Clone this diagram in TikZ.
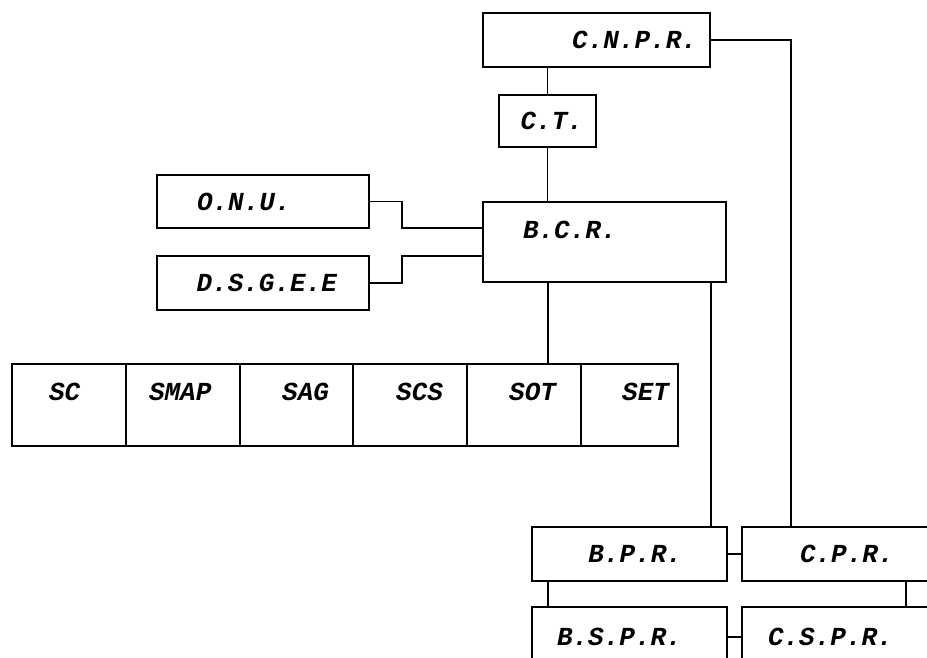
\documentclass[tikz,border=0pt]{standalone}
\usepackage{fontspec}
\setmonofont{Liberation Mono}
\usepackage{tikz}
\usetikzlibrary{positioning,calc}

\begin{document}
\begin{tikzpicture}[x=1pt,y=-1pt,
    box/.style={draw,line width=1.4pt,anchor=north west,inner ysep=0pt,outer sep=0pt,
      font=\ttfamily\bfseries\itshape\fontsize{26}{28}\selectfont},
    cell/.style={box,minimum height=82pt,text depth=26pt},
    a/.style={line width=1.4pt}]
    \useasboundingbox (0,0) rectangle (927,657);
    \clip (0,0) rectangle (927,657);
    % top of the chart
    \node[box,minimum height=54pt,align=right,inner xsep=13pt,text width=201pt] (cnpr) at (483,13) {C.N.P.R.};
    \node[box,minimum height=52pt,align=right,inner xsep=13pt,text width=71pt] (ct) at (499,95) {C.T.};
    \node[box,minimum height=80pt,align=left,inner xsep=40pt,text width=163pt,text depth=24pt] (bcr) at (483,202) {B.C.R.};
    \node[box,minimum height=53pt,align=left,inner xsep=40pt,text width=132pt] (onu) at (157,175) {O.N.U.};
    \node[box,minimum height=54pt,align=right,inner xsep=32pt,text width=148pt] (dsgee) at (157,256) {D.S.G.E.E};
    % services row
    \node[cell,align=left,inner xsep=37pt,text width=40pt] (sc) at (12,364) {SC};
    \node[cell,align=left,inner xsep=23pt,text width=68pt] (smap) at (sc.north east) {SMAP};
    \node[cell,align=right,inner xsep=24pt,text width=65pt] (sag) at (smap.north east) {SAG};
    \node[cell,align=right,inner xsep=24pt,text width=66pt] (scs) at (sag.north east) {SCS};
    \node[cell,align=right,inner xsep=25pt,text width=64pt] (sot) at (scs.north east) {SOT};
    \node[cell,align=right,inner xsep=9pt,text width=79pt] (set) at (sot.north east) {SET};
    % regional level
    \node[box,minimum height=54pt,align=right,inner xsep=45pt,text width=105pt] (bpr) at (532,527) {B.P.R.};
    \node[box,minimum height=54pt,align=left,inner xsep=58pt,text width=102pt] (cpr) at (742,527) {C.P.R.};
    \node[box,minimum height=60pt,align=left,inner xsep=25pt,text width=145pt] (bspr) at (532,607) {B.S.P.R.};
    \node[box,minimum height=60pt,align=left,inner xsep=26pt,text width=166pt] (cspr) at (742,607) {C.S.P.R.};
    % links
    \draw[a] (ct.north) -- (ct.north |- cnpr.south);
    \draw[a] (ct.south) -- (ct.south |- bcr.north);
    \draw[a] (cnpr.east) -| ($(cpr.north west)+(49,0)$);
    \draw[a] (onu.east) -- ++(33,0) |- ($(bcr.north west)+(0,26)$);
    \draw[a] (dsgee.east) -- ++(33,0) |- ($(bcr.north west)+(0,54)$);
    \draw[a] ($(bcr.south west)+(65,0)$) coordinate (b1) -- (b1 |- sot.north);
    \draw[a] ($(bcr.south west)+(228,0)$) coordinate (b2) -- (b2 |- bpr.north);
    \draw[a] (bpr.east) -- (cpr.west);
    \draw[a] ($(bpr.south west)+(16,0)$) coordinate (b3) -- (b3 |- bspr.north);
    \draw[a] (bspr.east) -- (cspr.west);
    \draw[a] ($(cpr.south west)+(164,0)$) coordinate (c1) -- (c1 |- cspr.north);
  \end{tikzpicture}
\end{document}
